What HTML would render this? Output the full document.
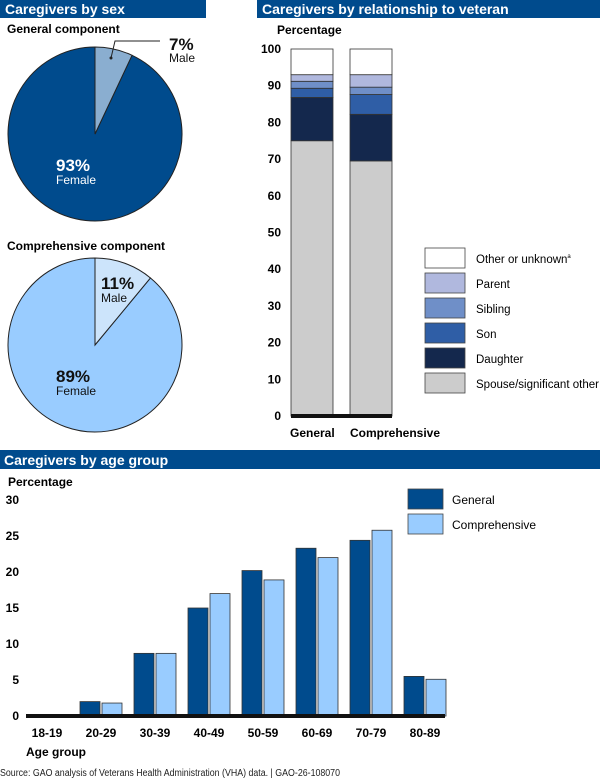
<!DOCTYPE html>
<html><head><meta charset="utf-8"><style>
body{margin:0;background:#fff;font-family:"Liberation Sans",Arial,sans-serif}
svg text{font-family:"Liberation Sans",Arial,sans-serif}
</style></head><body>
<svg id="s" width="600" height="779" xmlns="http://www.w3.org/2000/svg">
<rect x="0" y="0" width="206" height="18" fill="#004b8d"/>
<text x="5" y="14" fill="#fff" font-size="14" font-weight="bold">Caregivers by sex</text>
<rect x="257" y="0" width="343" height="18" fill="#004b8d"/>
<text x="262" y="14" fill="#fff" font-size="14" font-weight="bold">Caregivers by relationship to veteran</text>
<rect x="0" y="450" width="600" height="19" fill="#004b8d"/>
<text x="4" y="465" fill="#fff" font-size="14" font-weight="bold">Caregivers by age group</text>
<text x="7" y="33" font-size="12" font-weight="bold">General component</text>
<text x="7" y="250" font-size="12" font-weight="bold">Comprehensive component</text>
<g id="pies"></g>
<text x="277" y="34" font-size="12" font-weight="bold">Percentage</text>
<g id="stack"></g>
<text x="8" y="486" font-size="12" font-weight="bold">Percentage</text>
<g id="age"></g>
<text x="26" y="756" font-size="12" font-weight="bold">Age group</text>
<text x="0" y="776" font-size="10" fill="#222" textLength="340" lengthAdjust="spacingAndGlyphs">Source: GAO analysis of Veterans Health Administration (VHA) data.  |  GAO-26-108070</text>
</svg>
<script>
const NS="http://www.w3.org/2000/svg";
function mk(p,t,a){const e=document.createElementNS(NS,t);for(const k in a)e.setAttribute(k,a[k]);p.appendChild(e);return e;}
// Pie data
const pieNames=["general","comprehensive"];
const maleShare=[7,11];
const femaleShare=[93,89];
// Stacked data
const relCats=["General","Comprehensive"];
const relSeries=["Spouse/significant other","Daughter","Son","Sibling","Parent","Other or unknown"];
const relGeneral=[75,11.8,2.5,1.9,1.8,7];
const relComprehensive=[69.5,12.7,5.4,2,3.4,7.2];
const relTicks=[0,10,20,30,40,50,60,70,80,90,100];
// Age data
const ageCats=["18-19","20-29","30-39","40-49","50-59","60-69","70-79","80-89"];
const ageGeneral=[0,2.0,8.7,15.0,20.2,23.3,24.4,5.5];
const ageComprehensive=[0,1.8,8.7,17.0,18.9,22.0,25.8,5.1];
const ageTicks=[0,5,10,15,20,25,30];

// Pies
const pg=document.getElementById('pies');
const pieCfg=[{cy:134,fem:"#004b8d",male:"#8aaed0",ftxt:"#fff"},{cy:345,fem:"#99ccff",male:"#cce4fb",ftxt:"#111"}];
pieNames.forEach((n,i)=>{
  const c=pieCfg[i],cx=95,cy=c.cy,r=87;
  const m=maleShare[i]/100*2*Math.PI;
  const ex=cx+r*Math.sin(m),ey=cy-r*Math.cos(m);
  let e=mk(pg,'path',{d:`M${cx},${cy}L${ex},${ey}A${r},${r} 0 1 1 ${cx},${cy-r}Z`,fill:c.fem,stroke:"#222","stroke-width":1});
  
  e=mk(pg,'path',{d:`M${cx},${cy}L${cx},${cy-r}A${r},${r} 0 0 1 ${ex},${ey}Z`,fill:c.male,stroke:"#222","stroke-width":1});
  
  const ft=mk(pg,'text',{x:56,y:cy+37,fill:c.ftxt,"font-size":17,"font-weight":"bold"});ft.textContent=femaleShare[i]+"%";
  
  const fl=mk(pg,'text',{x:56,y:cy+50,fill:c.ftxt,"font-size":12});fl.textContent="Female";
  
  if(i==0){const l=mk(pg,'polyline',{points:`111,58 115,41 160,41`,fill:"none",stroke:"#222","stroke-width":1});
    
    mk(pg,'circle',{cx:111,cy:58,r:1.5,fill:"#222"});}
  const mt=mk(pg,'text',{x:i==0?169:101,y:i==0?50:cy-56,"font-size":17,"font-weight":"bold",fill:"#111"});mt.textContent=maleShare[i]+"%";
  
  const ml=mk(pg,'text',{x:i==0?169:101,y:i==0?62:cy-43,"font-size":12,fill:"#111"});ml.textContent="Male";
  
});

// Stacked bars
const sg=document.getElementById('stack');
const relColors=["#cccccc","#14284d","#2f5ea6","#6f8fc8","#b0b8de","#ffffff"];
const sy=v=>416-v*3.67;
relTicks.forEach(t=>{const e=mk(sg,'text',{x:281,y:sy(t)+4,"text-anchor":"end","font-size":12,"font-weight":"bold"});e.textContent=t;
  });
[relGeneral,relComprehensive].forEach((vals,i)=>{
  const x=291+i*59;let acc=0;
  vals.forEach((v,j)=>{const top=Math.min(acc+v,100);
    const r=mk(sg,'rect',{x:x,y:sy(top),width:42,height:sy(acc)-sy(top),fill:relColors[j],stroke:"#333","stroke-width":0.8});
    acc=top;});
  const l=mk(sg,'text',{x:i==0?290:350,y:437,"font-size":12,"font-weight":"bold"});l.textContent=relCats[i];
  
});
let bl=mk(sg,'rect',{x:291,y:414,width:101,height:4,fill:"#111"});
relSeries.slice().reverse().forEach((s,k)=>{const j=relSeries.length-1-k;const y=248+k*25;
  const b=mk(sg,'rect',{x:425,y:y,width:40,height:20,fill:relColors[j],stroke:"#444","stroke-width":0.8});
  
  const t=mk(sg,'text',{x:476,y:y+15,"font-size":11.5});t.textContent=s;
  if(j==0){t.setAttribute('textLength','123');t.setAttribute('lengthAdjust','spacingAndGlyphs');}
  if(j==5){const sp=mk(sg,'tspan',{"font-size":6,dy:-5});sp.textContent="a";t.appendChild(sp);}
  });

// Age chart
const ag=document.getElementById('age');
const ay=v=>716-v*7.2;
const cx=i=>47+i*54;
ageTicks.forEach(t=>{const e=mk(ag,'text',{x:19,y:ay(t)+4,"text-anchor":"end","font-size":12,"font-weight":"bold"});e.textContent=t;
  });
ageCats.forEach((c,i)=>{
  if(ageGeneral[i]>0){const r=mk(ag,'rect',{x:cx(i)-21,y:ay(ageGeneral[i]),width:20,height:716-ay(ageGeneral[i]),fill:"#004b8d",stroke:"#333","stroke-width":0.8});
    }
  if(ageComprehensive[i]>0){const r=mk(ag,'rect',{x:cx(i)+1,y:ay(ageComprehensive[i]),width:20,height:716-ay(ageComprehensive[i]),fill:"#99ccff",stroke:"#333","stroke-width":0.8});
    }
  const t=mk(ag,'text',{x:cx(i),y:737,"text-anchor":"middle","font-size":12,"font-weight":"bold"});t.textContent=c;
  
});
bl=mk(ag,'rect',{x:26,y:714,width:419,height:4,fill:"#111"});
[["General","#004b8d"],["Comprehensive","#99ccff"]].forEach((d,k)=>{
  const b=mk(ag,'rect',{x:408,y:489+k*25,width:35,height:20,fill:d[1],stroke:"#444","stroke-width":0.8});
  
  const t=mk(ag,'text',{x:452,y:504+k*25,"font-size":12});t.textContent=d[0];
  });
</script>
</body></html>
